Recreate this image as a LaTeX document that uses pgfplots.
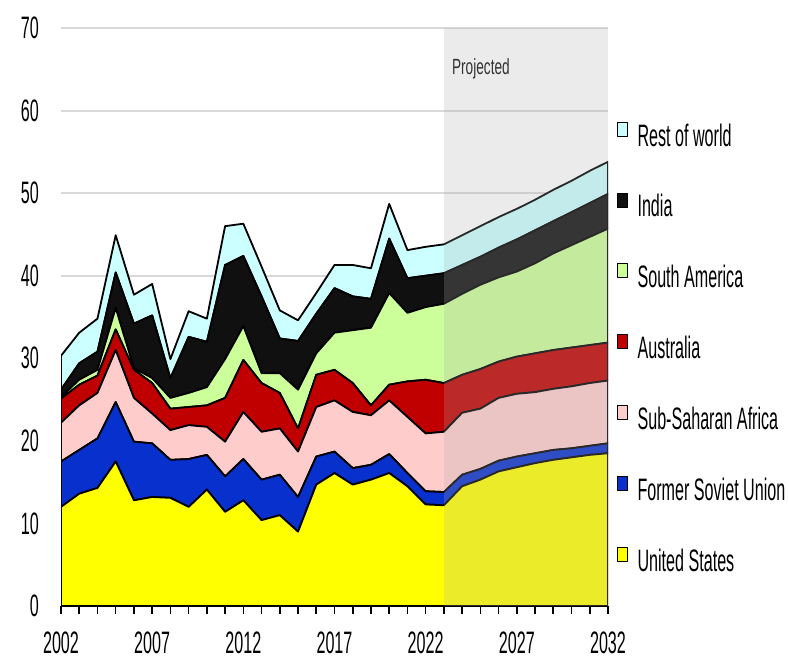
\documentclass[border=0pt]{standalone}
\usepackage{pgfplots}
\pgfplotsset{compat=1.18}
\usepackage{pgfplotstable}
\usepackage{fontspec}
\setmainfont{Liberation Sans}[FakeStretch=0.52]
\newfontfamily\projfont{Liberation Sans}[FakeStretch=0.62]

\definecolor{cUS}{RGB}{255,255,0}
\definecolor{cFSU}{RGB}{8,48,204}
\definecolor{cSSA}{RGB}{255,204,204}
\definecolor{cAUS}{RGB}{192,0,0}
\definecolor{cSA}{RGB}{204,255,153}
\definecolor{cIND}{RGB}{16,16,16}
\definecolor{cROW}{RGB}{204,255,255}
\definecolor{cGrid}{RGB}{217,217,217}
\definecolor{cOver}{RGB}{173,173,173}

\pgfplotstableread{
year us fsu ssa aus sa india row
2002 12.0 5.5 4.7 2.9 0.2 0.9 4.1
2003 13.6 5.3 5.4 2.5 0.6 2.0 3.7
2004 14.3 6.0 5.5 2.1 0.7 2.2 4.0
2005 17.5 7.2 6.3 2.5 2.6 4.3 4.5
2006 12.8 7.1 5.3 3.4 0.2 5.4 3.5
2007 13.2 6.5 3.6 3.7 0.6 7.6 3.8
2008 13.1 4.6 3.6 2.6 1.3 2.4 2.3
2009 12.0 5.8 4.1 2.2 1.7 6.8 3.1
2010 14.1 4.2 3.4 2.6 2.2 5.5 2.8
2011 11.4 4.3 4.2 5.3 4.7 11.4 4.7
2012 12.8 5.0 5.7 6.3 4.1 8.5 3.9
2013 10.4 4.9 5.8 5.9 1.2 9.3 3.6
2014 11.0 4.9 5.6 4.3 2.4 4.2 3.4
2015 9.0 4.2 5.5 2.8 4.7 5.9 2.5
2016 14.7 3.4 6.0 3.9 2.6 4.8 2.5
2017 16.1 2.6 6.2 3.7 4.5 5.4 2.8
2018 14.7 2.0 6.8 3.5 6.4 4.1 3.8
2019 15.3 1.8 6.0 1.2 9.4 3.5 3.7
2020 16.1 2.3 6.5 1.9 11.1 6.6 4.2
2021 14.5 1.6 6.8 4.3 8.3 4.2 3.4
2022 12.3 1.6 7.0 6.5 8.8 3.8 3.5
2023 12.2 1.6 7.3 5.9 9.6 3.7 3.5
2024 14.5 1.4 7.5 4.6 9.8 3.5 3.6
2025 15.3 1.3 7.3 4.8 10.2 3.4 3.7
2026 16.3 1.3 7.6 4.4 10.2 3.6 3.7
2027 16.8 1.3 7.6 4.5 10.3 3.9 3.7
2028 17.3 1.2 7.4 4.7 10.9 4.0 3.7
2029 17.7 1.2 7.4 4.7 11.7 3.9 3.8
2030 18.0 1.1 7.5 4.7 12.4 4.0 3.8
2031 18.3 1.1 7.6 4.6 13.1 4.1 3.9
2032 18.5 1.2 7.6 4.6 13.8 4.2 3.9
}\data

\begin{document}
\begin{tikzpicture}
\useasboundingbox (0,0) rectangle (789pt,659pt);
\begin{axis}[
  at={(61pt,53pt)}, anchor=south west,
  scale only axis, width=547pt, height=578pt,
  xmin=2002, xmax=2032, ymin=0, ymax=70,
  stack plots=y,
  axis lines=left,
  axis line style={-},
  y axis line style={draw=none},
  x axis line style={black, line width=1.8pt},
  ytick={0,10,...,70},
  xtick={2002,2007,...,2032},
  minor xtick={2002,...,2032},
  tick align=outside,
  ytick style={draw=none},
  xtick style={black, line width=1.6pt},
  minor x tick style={black, line width=1.6pt},
  major tick length=8pt, minor tick length=8pt,
  ymajorgrids,
  major grid style={cGrid, line width=2pt},
  /pgf/number format/assume math mode=true,
  tick label style={font=\fontsize{31}{36}\selectfont, black},
  x tick label style={/pgf/number format/1000 sep={}, inner sep=0pt, yshift=-18pt},
  y tick label style={inner sep=0pt, xshift=-14pt},
  every axis plot/.append style={draw=black, line width=1.8pt, line join=round},
  reverse legend,
  legend cell align=left,
  legend image code/.code={
    \draw[#1, draw=black, line width=0.9pt] (0pt,0pt) rectangle (10pt,14pt);
    \path (19pt,0pt);
  },
  legend style={at={(1,0.447)}, anchor=west, xshift=9pt, draw=none, fill=none,
    font=\fontsize{31}{36}\selectfont, row sep=44.5pt, inner sep=0pt,
    nodes={inner sep=0pt, text height=22pt, text depth=2pt}},
]
\addplot[fill=cUS] table[x=year,y=us]{\data} \closedcycle;
\addlegendentry{United States}
\addplot[fill=cFSU] table[x=year,y=fsu]{\data} \closedcycle;
\addlegendentry{Former Soviet Union}
\addplot[fill=cSSA] table[x=year,y=ssa]{\data} \closedcycle;
\addlegendentry{Sub-Saharan Africa}
\addplot[fill=cAUS] table[x=year,y=aus]{\data} \closedcycle;
\addlegendentry{Australia}
\addplot[fill=cSA] table[x=year,y=sa]{\data} \closedcycle;
\addlegendentry{South America}
\addplot[fill=cIND] table[x=year,y=india]{\data} \closedcycle;
\addlegendentry{India}
\addplot[fill=cROW] table[x=year,y=row]{\data} \closedcycle;
\addlegendentry{Rest of world}
\coordinate (pA) at (axis cs:2023,0);
\coordinate (pB) at (axis cs:2032,70);
\coordinate (pT) at (axis cs:2023,65);
\end{axis}
\fill[cOver, opacity=0.24] (pA) rectangle (pB);
\node[anchor=west, font=\projfont\fontsize{22}{26}\selectfont, text=black!80, inner sep=0pt, xshift=8pt]
  at (pT) {Projected};
\end{tikzpicture}
\end{document}
